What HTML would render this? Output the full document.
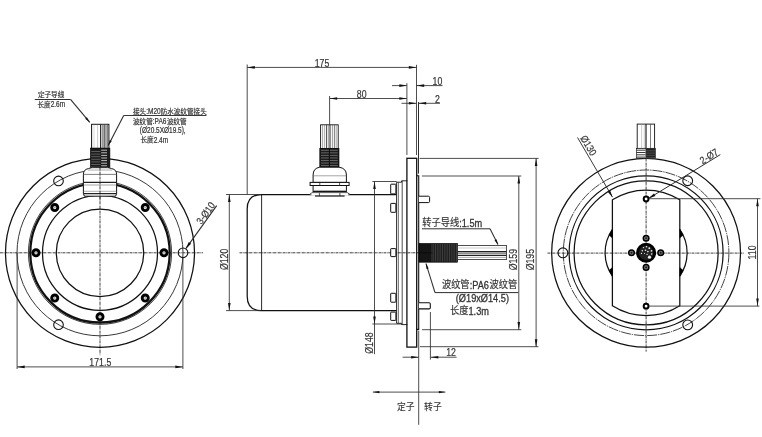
<!DOCTYPE html>
<html><head><meta charset="utf-8"><title>Drawing</title>
<style>html,body{margin:0;padding:0;background:#fff;}body{width:762px;height:437px;overflow:hidden;font-family:"Liberation Sans",sans-serif;}svg{display:block;will-change:transform;opacity:0.999}</style>
</head><body>
<svg width="762" height="437" viewBox="0 0 762 437" font-family="Liberation Sans, sans-serif">
<rect width="762" height="437" fill="#fff"/>
<line x1="0.00" y1="252.80" x2="203.00" y2="252.80" stroke="#1c1c1c" stroke-width="0.85" stroke-dasharray="2.9 0.6 0.7 0.6"/>
<line x1="100.00" y1="158.00" x2="100.00" y2="355.20" stroke="#1c1c1c" stroke-width="0.85" stroke-dasharray="2.9 0.6 0.7 0.6"/>
<circle cx="100.00" cy="252.80" r="94.50" stroke="#111" stroke-width="1.25" fill="none" />
<circle cx="100.00" cy="252.80" r="83.00" stroke="#2e2e2e" stroke-width="0.95" fill="none" />
<circle cx="100.00" cy="252.80" r="69.70" stroke="#111" stroke-width="2.3" fill="none" />
<circle cx="100.00" cy="252.80" r="71.60" stroke="#111" stroke-width="0.8" fill="none" />
<circle cx="100.00" cy="252.80" r="57.50" stroke="#111" stroke-width="1.25" fill="none" />
<circle cx="100.00" cy="252.80" r="43.70" stroke="#111" stroke-width="1.25" fill="none" />
<circle cx="164.00" cy="252.80" r="3.05" stroke="#000" stroke-width="2.9" fill="#fff" />
<circle cx="164.00" cy="252.80" r="0.70" stroke="#777" stroke-width="0.4" fill="#bbb" />
<circle cx="145.25" cy="207.55" r="3.05" stroke="#000" stroke-width="2.9" fill="#fff" />
<circle cx="145.25" cy="207.55" r="0.70" stroke="#777" stroke-width="0.4" fill="#bbb" />
<circle cx="54.75" cy="207.55" r="3.05" stroke="#000" stroke-width="2.9" fill="#fff" />
<circle cx="54.75" cy="207.55" r="0.70" stroke="#777" stroke-width="0.4" fill="#bbb" />
<circle cx="36.00" cy="252.80" r="3.05" stroke="#000" stroke-width="2.9" fill="#fff" />
<circle cx="36.00" cy="252.80" r="0.70" stroke="#777" stroke-width="0.4" fill="#bbb" />
<circle cx="54.75" cy="298.05" r="3.05" stroke="#000" stroke-width="2.9" fill="#fff" />
<circle cx="54.75" cy="298.05" r="0.70" stroke="#777" stroke-width="0.4" fill="#bbb" />
<circle cx="100.00" cy="316.80" r="3.05" stroke="#000" stroke-width="2.9" fill="#fff" />
<circle cx="100.00" cy="316.80" r="0.70" stroke="#777" stroke-width="0.4" fill="#bbb" />
<circle cx="145.25" cy="298.05" r="3.05" stroke="#000" stroke-width="2.9" fill="#fff" />
<circle cx="145.25" cy="298.05" r="0.70" stroke="#777" stroke-width="0.4" fill="#bbb" />
<circle cx="183.00" cy="252.80" r="4.80" stroke="#111" stroke-width="1.1" fill="none" />
<circle cx="58.50" cy="180.92" r="4.80" stroke="#111" stroke-width="1.1" fill="none" />
<circle cx="58.50" cy="324.68" r="4.80" stroke="#111" stroke-width="1.1" fill="none" />
<g>
<rect x="91.60" y="124.30" width="17.30" height="24.10" stroke="#111" stroke-width="1.0" fill="#fff" />
<rect x="101.6" y="124.9" width="6.4" height="23.3" fill="#d4d4d4"/>
<line x1="94.00" y1="124.60" x2="94.00" y2="148.40" stroke="#bbb" stroke-width="0.5" />
<line x1="97.60" y1="124.60" x2="97.60" y2="148.40" stroke="#999" stroke-width="0.5" />
<line x1="100.60" y1="124.60" x2="100.60" y2="148.40" stroke="#222" stroke-width="1.1" />
<line x1="102.40" y1="124.60" x2="102.40" y2="148.40" stroke="#666" stroke-width="0.6" />
<line x1="104.20" y1="124.60" x2="104.20" y2="148.40" stroke="#333" stroke-width="0.9" />
<line x1="105.80" y1="124.60" x2="105.80" y2="148.40" stroke="#666" stroke-width="0.6" />
<line x1="107.30" y1="124.60" x2="107.30" y2="148.40" stroke="#444" stroke-width="0.7" />
<rect x="90.40" y="148.10" width="19.50" height="19.20" stroke="#000" stroke-width="0.6" fill="#1c1c1c" />
<line x1="101.20" y1="150.20" x2="107.00" y2="150.20" stroke="#cfcfcf" stroke-width="0.9" />
<line x1="91.20" y1="151.50" x2="100.40" y2="151.50" stroke="#777" stroke-width="0.7" />
<line x1="101.20" y1="152.80" x2="107.00" y2="152.80" stroke="#cfcfcf" stroke-width="0.9" />
<line x1="91.20" y1="154.10" x2="100.40" y2="154.10" stroke="#777" stroke-width="0.7" />
<line x1="101.20" y1="155.40" x2="107.00" y2="155.40" stroke="#cfcfcf" stroke-width="0.9" />
<line x1="91.20" y1="156.70" x2="100.40" y2="156.70" stroke="#777" stroke-width="0.7" />
<line x1="101.20" y1="158.00" x2="107.00" y2="158.00" stroke="#cfcfcf" stroke-width="0.9" />
<line x1="91.20" y1="159.30" x2="100.40" y2="159.30" stroke="#777" stroke-width="0.7" />
<line x1="101.20" y1="160.60" x2="107.00" y2="160.60" stroke="#cfcfcf" stroke-width="0.9" />
<line x1="91.20" y1="161.90" x2="100.40" y2="161.90" stroke="#777" stroke-width="0.7" />
<line x1="101.20" y1="163.20" x2="107.00" y2="163.20" stroke="#cfcfcf" stroke-width="0.9" />
<line x1="91.20" y1="164.50" x2="100.40" y2="164.50" stroke="#777" stroke-width="0.7" />
<line x1="101.20" y1="165.80" x2="107.00" y2="165.80" stroke="#cfcfcf" stroke-width="0.9" />
<line x1="91.20" y1="167.10" x2="100.40" y2="167.10" stroke="#777" stroke-width="0.7" />
<path d="M92.6,167.3 L107.4,167.3 L111.6,168.6 Q116.6,169.6 116.6,174.2 L116.6,193.6 L115.6,196.2 L84.4,196.2 L83.4,193.6 L83.4,174.2 Q83.4,169.6 88.4,168.6 Z" stroke="#111" stroke-width="1.0" fill="#fff" />
<line x1="88.00" y1="169.00" x2="112.00" y2="169.00" stroke="#777" stroke-width="0.5" />
<line x1="88.00" y1="170.40" x2="112.00" y2="170.40" stroke="#999" stroke-width="0.5" />
<line x1="83.40" y1="174.40" x2="116.60" y2="174.40" stroke="#444" stroke-width="0.7" />
<line x1="83.40" y1="182.40" x2="116.60" y2="182.40" stroke="#222" stroke-width="1.3" />
<line x1="83.40" y1="185.00" x2="116.60" y2="185.00" stroke="#666" stroke-width="0.6" />
<line x1="83.40" y1="191.30" x2="116.60" y2="191.30" stroke="#777" stroke-width="0.6" />
<line x1="83.40" y1="193.60" x2="116.60" y2="193.60" stroke="#222" stroke-width="1.3" />
<line x1="100.00" y1="167.00" x2="100.00" y2="200.00" stroke="#1c1c1c" stroke-width="0.85" stroke-dasharray="2.9 0.6 0.7 0.6"/>
</g>
<text transform="translate(37.90,96.70) scale(0.9167,1)" font-size="7.2" font-family="'Liberation Sans','Noto Sans CJK SC',sans-serif" fill="#333" stroke="#333" stroke-width="0.2">定子导线</text>
<text transform="translate(37.50,106.50) scale(0.9167,1)" font-size="7.2" font-family="'Liberation Sans','Noto Sans CJK SC',sans-serif" fill="#333" stroke="#333" stroke-width="0.2">长度</text>
<text transform="translate(50.70,107.00) scale(0.7750,1)" font-size="8.4" fill="#333" stroke="#333" stroke-width="0.22">2.6m</text>
<line x1="34.80" y1="99.40" x2="70.50" y2="99.40" stroke="#2e2e2e" stroke-width="1.05" />
<line x1="70.50" y1="99.40" x2="89.80" y2="122.40" stroke="#2e2e2e" stroke-width="1.1" />
<polygon points="89.90,122.60 85.20,118.71 86.89,117.29" fill="#111"/>
<text transform="translate(133.00,113.90) scale(0.9167,1)" font-size="7.2" font-family="'Liberation Sans','Noto Sans CJK SC',sans-serif" fill="#333" stroke="#333" stroke-width="0.2">接头</text>
<text transform="translate(146.20,114.40) scale(0.7750,1)" font-size="8.4" fill="#333" stroke="#333" stroke-width="0.22">:M20</text>
<text transform="translate(160.67,113.90) scale(0.9167,1)" font-size="7.2" font-family="'Liberation Sans','Noto Sans CJK SC',sans-serif" fill="#333" stroke="#333" stroke-width="0.2">防水波纹管接头</text>
<line x1="123.70" y1="115.50" x2="206.40" y2="115.50" stroke="#2e2e2e" stroke-width="0.95" />
<line x1="123.70" y1="115.50" x2="108.20" y2="145.40" stroke="#2e2e2e" stroke-width="1.1" />
<polygon points="108.00,145.80 109.78,139.96 111.73,140.97" fill="#111"/>
<text transform="translate(133.00,123.70) scale(0.9167,1)" font-size="7.2" font-family="'Liberation Sans','Noto Sans CJK SC',sans-serif" fill="#333" stroke="#333" stroke-width="0.2">波纹管</text>
<text transform="translate(152.80,124.20) scale(0.7750,1)" font-size="8.4" fill="#333" stroke="#333" stroke-width="0.22">:PA6</text>
<text transform="translate(166.91,123.70) scale(0.9167,1)" font-size="7.2" font-family="'Liberation Sans','Noto Sans CJK SC',sans-serif" fill="#333" stroke="#333" stroke-width="0.2">波纹管</text>
<text transform="translate(139.80,132.80) scale(0.7750,1)" font-size="8.4" fill="#333" stroke="#333" stroke-width="0.22">(&#216;20.5X&#216;19.5),</text>
<text transform="translate(140.50,142.00) scale(0.9167,1)" font-size="7.2" font-family="'Liberation Sans','Noto Sans CJK SC',sans-serif" fill="#333" stroke="#333" stroke-width="0.2">长度</text>
<text transform="translate(153.70,142.50) scale(0.7750,1)" font-size="8.4" fill="#333" stroke="#333" stroke-width="0.22">2.4m</text>
<line x1="17.10" y1="252.80" x2="17.10" y2="369.00" stroke="#2e2e2e" stroke-width="0.85" />
<line x1="182.90" y1="257.50" x2="182.90" y2="369.00" stroke="#2e2e2e" stroke-width="0.85" />
<line x1="17.10" y1="366.90" x2="182.90" y2="366.90" stroke="#2e2e2e" stroke-width="0.85" />
<polygon points="17.10,366.90 24.70,365.60 24.70,368.20" fill="#111"/>
<polygon points="182.90,366.90 175.30,368.20 175.30,365.60" fill="#111"/>
<text transform="translate(100.30,366.00) rotate(0) scale(0.86,1)" font-size="10.2" text-anchor="middle" fill="#333" stroke="#333" stroke-width="0.18">171.5</text>
<line x1="186.00" y1="248.40" x2="216.70" y2="205.60" stroke="#2e2e2e" stroke-width="1.1" />
<polygon points="185.60,249.00 188.79,242.06 191.15,243.75" fill="#111"/>
<text transform="translate(201.5,225.0) rotate(-54.4) scale(0.86,1)" font-size="10.2" fill="#333" stroke="#333" stroke-width="0.18">3-&#216;10</text>
<line x1="239.50" y1="252.80" x2="432.00" y2="252.80" stroke="#1c1c1c" stroke-width="0.85" stroke-dasharray="2.9 0.6 0.7 0.6"/>
<path d="M396.6,194.5 L261.6,194.5 Q247.2,194.5 247.2,208.9 L247.2,296.2 Q247.2,310.6 261.6,310.6 L396.6,310.6" stroke="#111" stroke-width="1.25" fill="none" />
<line x1="261.60" y1="194.50" x2="261.60" y2="310.60" stroke="#111" stroke-width="0.9" />
<rect x="390.7" y="184.2" width="5.2" height="9.70" rx="0.5" fill="#fff" stroke="#111" stroke-width="1"/>
<rect x="390.7" y="203.4" width="5.2" height="8.90" rx="0.5" fill="#fff" stroke="#111" stroke-width="1"/>
<rect x="390.7" y="248.6" width="5.2" height="8.00" rx="0.5" fill="#fff" stroke="#111" stroke-width="1"/>
<rect x="390.7" y="293.3" width="5.2" height="8.90" rx="0.5" fill="#fff" stroke="#111" stroke-width="1"/>
<rect x="390.7" y="312.1" width="5.2" height="8.30" rx="0.5" fill="#fff" stroke="#111" stroke-width="1"/>
<path d="M396.6,182.2 L401.6,182.2 L401.6,180.8 L407.3,180.8 M396.6,323.3 L401.6,323.3 L401.6,324.6 L407.3,324.6" stroke="#111" stroke-width="0.9" fill="none" />
<line x1="396.60" y1="182.20" x2="396.60" y2="323.30" stroke="#111" stroke-width="0.9" />
<line x1="398.40" y1="182.20" x2="398.40" y2="323.30" stroke="#333" stroke-width="0.7" />
<line x1="402.20" y1="180.80" x2="402.20" y2="324.60" stroke="#222" stroke-width="0.8" />
<rect x="406.90" y="158.30" width="9.80" height="188.80" stroke="#111" stroke-width="1.3" fill="none" />
<path d="M416.7,175.7 L418.7,175.7 L418.7,329.4 L416.7,329.4" stroke="#111" stroke-width="1.1" fill="none" />
<path d="M418.9,196.2 L428.4,196.2 Q429.6,196.2 429.6,197.4 L429.6,201.4 Q429.6,202.6 428.4,202.6 L418.9,202.6" stroke="#111" stroke-width="1.0" fill="#fff" />
<path d="M418.9,302.7 L429.1,302.7 Q430.3,302.7 430.3,303.9 L430.3,307.7 Q430.3,308.9 429.1,308.9 L418.9,308.9" stroke="#111" stroke-width="1.1" fill="#fff" />
<rect x="419.00" y="243.40" width="38.60" height="18.80" stroke="#000" stroke-width="0.6" fill="#151515" />
<line x1="432.00" y1="244.00" x2="432.00" y2="261.60" stroke="#5a5a5a" stroke-width="0.6" />
<line x1="433.75" y1="244.00" x2="433.75" y2="261.60" stroke="#5a5a5a" stroke-width="0.6" />
<line x1="435.50" y1="244.00" x2="435.50" y2="261.60" stroke="#5a5a5a" stroke-width="0.6" />
<line x1="437.25" y1="244.00" x2="437.25" y2="261.60" stroke="#5a5a5a" stroke-width="0.6" />
<line x1="439.00" y1="244.00" x2="439.00" y2="261.60" stroke="#5a5a5a" stroke-width="0.6" />
<line x1="440.75" y1="244.00" x2="440.75" y2="261.60" stroke="#5a5a5a" stroke-width="0.6" />
<line x1="442.50" y1="244.00" x2="442.50" y2="261.60" stroke="#5a5a5a" stroke-width="0.6" />
<line x1="444.25" y1="244.00" x2="444.25" y2="261.60" stroke="#5a5a5a" stroke-width="0.6" />
<line x1="446.00" y1="244.00" x2="446.00" y2="261.60" stroke="#5a5a5a" stroke-width="0.6" />
<line x1="447.75" y1="244.00" x2="447.75" y2="261.60" stroke="#5a5a5a" stroke-width="0.6" />
<line x1="449.50" y1="244.00" x2="449.50" y2="261.60" stroke="#5a5a5a" stroke-width="0.6" />
<line x1="451.25" y1="244.00" x2="451.25" y2="261.60" stroke="#5a5a5a" stroke-width="0.6" />
<line x1="453.00" y1="244.00" x2="453.00" y2="261.60" stroke="#5a5a5a" stroke-width="0.6" />
<line x1="454.75" y1="244.00" x2="454.75" y2="261.60" stroke="#5a5a5a" stroke-width="0.6" />
<line x1="456.50" y1="244.00" x2="456.50" y2="261.60" stroke="#5a5a5a" stroke-width="0.6" />
<line x1="419.00" y1="252.80" x2="432.40" y2="252.80" stroke="#000" stroke-width="0.6" />
<rect x="457.60" y="245.40" width="48.90" height="14.20" stroke="#222" stroke-width="0.8" fill="#fff" />
<line x1="457.60" y1="248.00" x2="506.50" y2="248.00" stroke="#aaa" stroke-width="0.6" />
<line x1="457.60" y1="251.70" x2="506.50" y2="251.70" stroke="#222" stroke-width="1.2" />
<line x1="457.60" y1="253.20" x2="506.50" y2="253.20" stroke="#333" stroke-width="0.8" />
<line x1="457.60" y1="255.30" x2="506.50" y2="255.30" stroke="#222" stroke-width="1.2" />
<line x1="457.60" y1="257.40" x2="506.50" y2="257.40" stroke="#888" stroke-width="0.7" />
<rect x="320.60" y="124.80" width="17.60" height="23.90" stroke="#111" stroke-width="0.9" fill="#fff" />
<line x1="322.60" y1="124.80" x2="322.60" y2="148.70" stroke="#666" stroke-width="0.6" />
<line x1="324.60" y1="124.80" x2="324.60" y2="148.70" stroke="#777" stroke-width="0.6" />
<line x1="326.60" y1="124.80" x2="326.60" y2="148.70" stroke="#333" stroke-width="0.9" />
<line x1="328.40" y1="124.80" x2="328.40" y2="148.70" stroke="#666" stroke-width="0.6" />
<line x1="330.00" y1="124.80" x2="330.00" y2="148.70" stroke="#222" stroke-width="1.0" />
<line x1="332.40" y1="124.80" x2="332.40" y2="148.70" stroke="#555" stroke-width="0.6" />
<line x1="334.40" y1="124.80" x2="334.40" y2="148.70" stroke="#444" stroke-width="0.7" />
<line x1="336.20" y1="124.80" x2="336.20" y2="148.70" stroke="#666" stroke-width="0.6" />
<rect x="319.80" y="148.30" width="19.20" height="18.90" stroke="#000" stroke-width="0.6" fill="#1c1c1c" />
<line x1="321.00" y1="150.30" x2="337.80" y2="150.30" stroke="#777" stroke-width="0.8" />
<line x1="321.00" y1="152.85" x2="337.80" y2="152.85" stroke="#777" stroke-width="0.8" />
<line x1="321.00" y1="155.40" x2="337.80" y2="155.40" stroke="#777" stroke-width="0.8" />
<line x1="321.00" y1="157.95" x2="337.80" y2="157.95" stroke="#777" stroke-width="0.8" />
<line x1="321.00" y1="160.50" x2="337.80" y2="160.50" stroke="#777" stroke-width="0.8" />
<line x1="321.00" y1="163.05" x2="337.80" y2="163.05" stroke="#777" stroke-width="0.8" />
<line x1="321.00" y1="165.60" x2="337.80" y2="165.60" stroke="#777" stroke-width="0.8" />
<line x1="329.40" y1="148.30" x2="329.40" y2="167.20" stroke="#000" stroke-width="0.8" />
<path d="M319.8,167.2 L339.0,167.2 Q346.4,168.2 346.4,175.0 L346.4,182.4 L313.1,182.4 L313.1,175.0 Q313.1,168.2 319.8,167.2 Z" stroke="#111" stroke-width="1.0" fill="#fff" />
<line x1="313.10" y1="175.80" x2="346.40" y2="175.80" stroke="#666" stroke-width="0.6" />
<rect x="310.10" y="182.40" width="39.00" height="3.10" stroke="#111" stroke-width="1.0" fill="#fff" />
<line x1="319.80" y1="182.40" x2="319.80" y2="185.50" stroke="#111" stroke-width="0.7" />
<line x1="339.60" y1="182.40" x2="339.60" y2="185.50" stroke="#111" stroke-width="0.7" />
<rect x="313.10" y="185.50" width="33.30" height="6.00" stroke="#111" stroke-width="1.0" fill="#fff" />
<line x1="313.10" y1="190.60" x2="346.40" y2="190.60" stroke="#666" stroke-width="0.6" />
<path d="M309.6,194.5 L312.0,192.8 L347.6,192.8 L350.0,194.5" stroke="#111" stroke-width="0.9" fill="#fff" />
<rect x="311.5" y="193.3" width="36.6" height="2.2" fill="#fff"/>
<line x1="315.00" y1="196.00" x2="344.60" y2="196.00" stroke="#222" stroke-width="1.3" />
<line x1="319.40" y1="193.00" x2="319.40" y2="196.00" stroke="#111" stroke-width="0.7" />
<line x1="339.90" y1="193.00" x2="339.90" y2="196.00" stroke="#111" stroke-width="0.7" />
<line x1="247.20" y1="64.50" x2="247.20" y2="194.50" stroke="#2e2e2e" stroke-width="0.85" />
<line x1="416.50" y1="64.80" x2="416.50" y2="155.00" stroke="#2e2e2e" stroke-width="0.85" />
<line x1="247.20" y1="67.40" x2="416.40" y2="67.40" stroke="#2e2e2e" stroke-width="0.85" />
<polygon points="247.20,67.40 254.80,66.10 254.80,68.70" fill="#111"/>
<polygon points="416.40,67.40 408.80,68.70 408.80,66.10" fill="#111"/>
<text transform="translate(322.00,66.60) rotate(0) scale(0.86,1)" font-size="10.2" text-anchor="middle" fill="#333" stroke="#333" stroke-width="0.18">175</text>
<line x1="329.60" y1="96.00" x2="329.60" y2="124.80" stroke="#2e2e2e" stroke-width="0.85" />
<line x1="406.90" y1="83.20" x2="406.90" y2="155.00" stroke="#2e2e2e" stroke-width="0.85" />
<line x1="329.60" y1="98.50" x2="406.90" y2="98.50" stroke="#2e2e2e" stroke-width="0.85" />
<polygon points="329.60,98.50 337.20,97.20 337.20,99.80" fill="#111"/>
<polygon points="406.90,98.50 399.30,99.80 399.30,97.20" fill="#111"/>
<text transform="translate(361.70,97.90) rotate(0) scale(0.86,1)" font-size="10.2" text-anchor="middle" fill="#333" stroke="#333" stroke-width="0.18">80</text>
<line x1="392.00" y1="85.60" x2="406.90" y2="85.60" stroke="#2e2e2e" stroke-width="0.85" />
<polygon points="406.90,85.60 399.30,86.90 399.30,84.30" fill="#111"/>
<line x1="416.40" y1="85.60" x2="442.50" y2="85.60" stroke="#2e2e2e" stroke-width="0.85" />
<polygon points="416.60,85.60 424.20,84.30 424.20,86.90" fill="#111"/>
<text transform="translate(437.40,84.90) rotate(0) scale(0.86,1)" font-size="10.2" text-anchor="middle" fill="#333" stroke="#333" stroke-width="0.18">10</text>
<line x1="418.50" y1="102.00" x2="418.50" y2="173.60" stroke="#2e2e2e" stroke-width="1.0" />
<line x1="401.50" y1="103.30" x2="416.40" y2="103.30" stroke="#2e2e2e" stroke-width="0.85" />
<polygon points="416.40,103.30 408.80,104.60 408.80,102.00" fill="#111"/>
<line x1="418.50" y1="103.30" x2="440.00" y2="103.30" stroke="#2e2e2e" stroke-width="0.85" />
<polygon points="418.60,103.30 426.20,102.00 426.20,104.60" fill="#111"/>
<text transform="translate(437.50,102.90) rotate(0) scale(0.86,1)" font-size="10.2" text-anchor="middle" fill="#333" stroke="#333" stroke-width="0.18">2</text>
<line x1="226.00" y1="194.50" x2="261.00" y2="194.50" stroke="#2e2e2e" stroke-width="0.85" />
<line x1="226.00" y1="310.60" x2="261.00" y2="310.60" stroke="#2e2e2e" stroke-width="0.85" />
<line x1="229.30" y1="194.50" x2="229.30" y2="310.60" stroke="#2e2e2e" stroke-width="0.85" />
<polygon points="229.30,194.50 230.60,202.10 228.00,202.10" fill="#111"/>
<polygon points="229.30,310.60 228.00,303.00 230.60,303.00" fill="#111"/>
<text transform="translate(227.60,259.40) rotate(-90) scale(0.86,1)" font-size="10.2" text-anchor="middle" fill="#333" stroke="#333" stroke-width="0.18">&#216;120</text>
<line x1="372.40" y1="181.50" x2="396.60" y2="181.50" stroke="#2e2e2e" stroke-width="0.85" />
<line x1="372.40" y1="324.00" x2="402.00" y2="324.00" stroke="#2e2e2e" stroke-width="0.85" />
<line x1="374.50" y1="181.50" x2="374.50" y2="354.20" stroke="#2e2e2e" stroke-width="0.85" />
<polygon points="374.50,181.50 375.80,189.10 373.20,189.10" fill="#111"/>
<polygon points="374.50,324.00 373.20,316.40 375.80,316.40" fill="#111"/>
<text transform="translate(373.20,343.00) rotate(-90) scale(0.86,1)" font-size="10.2" text-anchor="middle" fill="#333" stroke="#333" stroke-width="0.18">&#216;148</text>
<line x1="421.90" y1="176.00" x2="521.30" y2="176.00" stroke="#2e2e2e" stroke-width="0.85" />
<line x1="422.00" y1="329.70" x2="521.30" y2="329.70" stroke="#2e2e2e" stroke-width="0.85" />
<line x1="518.80" y1="176.00" x2="518.80" y2="329.70" stroke="#2e2e2e" stroke-width="0.85" />
<polygon points="518.80,176.00 520.10,183.60 517.50,183.60" fill="#111"/>
<polygon points="518.80,329.70 517.50,322.10 520.10,322.10" fill="#111"/>
<text transform="translate(517.40,259.60) rotate(-90) scale(0.86,1)" font-size="10.2" text-anchor="middle" fill="#333" stroke="#333" stroke-width="0.18">&#216;159</text>
<line x1="419.60" y1="158.40" x2="538.60" y2="158.40" stroke="#2e2e2e" stroke-width="0.85" />
<line x1="419.90" y1="346.70" x2="538.40" y2="346.70" stroke="#2e2e2e" stroke-width="0.85" />
<line x1="536.10" y1="158.40" x2="536.10" y2="346.90" stroke="#2e2e2e" stroke-width="0.85" />
<polygon points="536.10,158.40 537.40,166.00 534.80,166.00" fill="#111"/>
<polygon points="536.10,346.90 534.80,339.30 537.40,339.30" fill="#111"/>
<text transform="translate(534.20,259.60) rotate(-90) scale(0.86,1)" font-size="10.2" text-anchor="middle" fill="#333" stroke="#333" stroke-width="0.18">&#216;195</text>
<line x1="430.40" y1="312.00" x2="430.40" y2="359.60" stroke="#2e2e2e" stroke-width="0.85" />
<line x1="418.70" y1="330.60" x2="418.70" y2="424.80" stroke="#2e2e2e" stroke-width="0.85" />
<line x1="402.60" y1="357.20" x2="418.70" y2="357.20" stroke="#2e2e2e" stroke-width="0.85" />
<polygon points="418.70,357.20 411.10,358.50 411.10,355.90" fill="#111"/>
<line x1="430.60" y1="357.20" x2="456.60" y2="357.20" stroke="#2e2e2e" stroke-width="0.85" />
<polygon points="430.70,357.20 438.30,355.90 438.30,358.50" fill="#111"/>
<text transform="translate(451.00,356.40) rotate(0) scale(0.86,1)" font-size="10.2" text-anchor="middle" fill="#333" stroke="#333" stroke-width="0.18">12</text>
<line x1="372.80" y1="392.10" x2="445.40" y2="392.10" stroke="#2e2e2e" stroke-width="0.85" />
<polygon points="372.80,392.10 379.40,391.00 379.40,393.20" fill="#111"/>
<polygon points="445.40,392.10 438.80,393.20 438.80,391.00" fill="#111"/>
<text transform="translate(397.00,410.23) scale(0.9167,1)" font-size="9.6" font-family="'Liberation Sans','Noto Sans CJK SC',sans-serif" fill="#333" stroke="#333" stroke-width="0.11">定子</text>
<text transform="translate(424.10,410.23) scale(0.9167,1)" font-size="9.6" font-family="'Liberation Sans','Noto Sans CJK SC',sans-serif" fill="#333" stroke="#333" stroke-width="0.11">转子</text>
<text transform="translate(422.20,225.97) scale(0.8894,1)" font-size="10.4" font-family="'Liberation Sans','Noto Sans CJK SC',sans-serif" fill="#333" stroke="#333" stroke-width="0.17">转子导线</text>
<text transform="translate(459.20,226.70) scale(0.8850,1)" font-size="10.4" fill="#333" stroke="#333" stroke-width="0.3">:1.5m</text>
<line x1="422.00" y1="228.80" x2="490.00" y2="228.80" stroke="#2e2e2e" stroke-width="1.0" />
<line x1="490.00" y1="228.80" x2="498.00" y2="244.60" stroke="#2e2e2e" stroke-width="1.05" />
<polygon points="498.20,245.00 494.51,240.14 496.47,239.15" fill="#111"/>
<text transform="translate(441.90,288.49) scale(0.9069,1)" font-size="10.2" font-family="'Liberation Sans','Noto Sans CJK SC',sans-serif" fill="#333" stroke="#333" stroke-width="0.17">波纹管</text>
<text transform="translate(469.65,289.20) scale(0.8850,1)" font-size="10.4" fill="#333" stroke="#333" stroke-width="0.3">:PA6</text>
<text transform="translate(489.60,288.49) scale(0.9069,1)" font-size="10.2" font-family="'Liberation Sans','Noto Sans CJK SC',sans-serif" fill="#333" stroke="#333" stroke-width="0.17">波纹管</text>
<line x1="435.00" y1="292.60" x2="518.30" y2="292.60" stroke="#2e2e2e" stroke-width="1.0" />
<line x1="435.00" y1="292.60" x2="426.00" y2="263.60" stroke="#2e2e2e" stroke-width="1.05" />
<polygon points="425.80,263.00 428.66,268.39 426.57,269.05" fill="#111"/>
<text transform="translate(455.80,302.00) scale(0.8850,1)" font-size="10.4" fill="#333" stroke="#333" stroke-width="0.3">(&#216;19x&#216;14.5)</text>
<text transform="translate(450.00,314.29) scale(0.9069,1)" font-size="10.2" font-family="'Liberation Sans','Noto Sans CJK SC',sans-serif" fill="#333" stroke="#333" stroke-width="0.17">长度</text>
<text transform="translate(468.50,315.00) scale(0.8850,1)" font-size="10.4" fill="#333" stroke="#333" stroke-width="0.3">1.3m</text>
<line x1="547.50" y1="253.10" x2="744.20" y2="253.10" stroke="#1c1c1c" stroke-width="0.85" stroke-dasharray="2.9 0.6 0.7 0.6"/>
<line x1="646.10" y1="158.00" x2="646.10" y2="351.60" stroke="#1c1c1c" stroke-width="0.85" stroke-dasharray="2.9 0.6 0.7 0.6"/>
<circle cx="646.10" cy="252.80" r="94.40" stroke="#111" stroke-width="1.25" fill="none" />
<circle cx="646.10" cy="252.80" r="82.80" stroke="#2e2e2e" stroke-width="0.9" fill="none" stroke-dasharray="10 0.9 1.4 0.9"/>
<circle cx="646.10" cy="252.80" r="77.00" stroke="#111" stroke-width="1.25" fill="none" />
<circle cx="646.10" cy="252.80" r="72.00" stroke="#111" stroke-width="1.25" fill="none" />
<path d="M612.40,199.81 A62.8,62.8 0 0 1 679.80,199.81 L679.80,305.79 A62.8,62.8 0 0 1 612.40,305.79 Z" stroke="#111" stroke-width="1.25" fill="none" />
<path d="M612.40,229.45 A41.0,41.0 0 0 0 612.40,276.15" stroke="#111" stroke-width="1.25" fill="none" />
<path d="M679.80,229.45 A41.0,41.0 0 0 1 679.80,276.15" stroke="#111" stroke-width="1.25" fill="none" />
<polygon points="612.40,229.45 611.41,230.95 610.51,232.45 609.69,233.95 609.05,235.25 612.40,238.05" fill="#000" stroke="#000" stroke-width="0.4"/>
<polygon points="612.40,276.15 611.41,274.65 610.51,273.15 609.69,271.65 609.05,270.35 612.40,267.55" fill="#000" stroke="#000" stroke-width="0.4"/>
<polygon points="679.80,229.45 680.79,230.95 681.69,232.45 682.51,233.95 683.15,235.25 679.80,238.05" fill="#000" stroke="#000" stroke-width="0.4"/>
<polygon points="679.80,276.15 680.79,274.65 681.69,273.15 682.51,271.65 683.15,270.35 679.80,267.55" fill="#000" stroke="#000" stroke-width="0.4"/>
<circle cx="687.70" cy="180.75" r="4.90" stroke="#111" stroke-width="1.1" fill="none" />
<circle cx="562.90" cy="252.80" r="4.90" stroke="#111" stroke-width="1.1" fill="none" />
<circle cx="687.70" cy="324.85" r="4.90" stroke="#111" stroke-width="1.1" fill="none" />
<circle cx="646.10" cy="199.00" r="2.40" stroke="#000" stroke-width="2.0" fill="#fff" />
<circle cx="646.10" cy="306.20" r="2.40" stroke="#000" stroke-width="2.0" fill="#fff" />
<circle cx="646.10" cy="252.80" r="8.60" stroke="#000" stroke-width="2.8" fill="#222" />
<circle cx="646.50" cy="246.80" r="0.8" fill="#eee"/>
<circle cx="649.30" cy="248.20" r="0.9" fill="#eee"/>
<circle cx="651.50" cy="250.80" r="0.9" fill="#eee"/>
<circle cx="651.70" cy="254.00" r="0.8" fill="#eee"/>
<circle cx="649.50" cy="257.20" r="1.6" fill="#eee"/>
<circle cx="643.50" cy="247.60" r="0.7" fill="#eee"/>
<circle cx="645.50" cy="250.20" r="0.8" fill="#eee"/>
<circle cx="642.30" cy="250.80" r="0.7" fill="#eee"/>
<circle cx="647.90" cy="251.60" r="0.8" fill="#eee"/>
<circle cx="641.50" cy="253.40" r="0.6" fill="#eee"/>
<circle cx="647.10" cy="254.40" r="0.6" fill="#eee"/>
<circle cx="644.50" cy="253.60" r="0.5" fill="#eee"/>
<circle cx="631.50" cy="252.80" r="2.80" stroke="#000" stroke-width="1.5" fill="#777" />
<circle cx="631.50" cy="252.80" r="0.80" stroke="#111" stroke-width="0.3" fill="#111" />
<circle cx="660.70" cy="252.80" r="2.80" stroke="#000" stroke-width="1.5" fill="#777" />
<circle cx="660.70" cy="252.80" r="0.80" stroke="#111" stroke-width="0.3" fill="#111" />
<circle cx="646.10" cy="238.20" r="2.80" stroke="#000" stroke-width="1.5" fill="#777" />
<circle cx="646.10" cy="238.20" r="0.80" stroke="#111" stroke-width="0.3" fill="#111" />
<circle cx="646.10" cy="267.40" r="2.80" stroke="#000" stroke-width="1.5" fill="#777" />
<circle cx="646.10" cy="267.40" r="0.80" stroke="#111" stroke-width="0.3" fill="#111" />
<rect x="637.20" y="124.10" width="17.40" height="24.30" stroke="#111" stroke-width="0.9" fill="#fff" />
<line x1="641.60" y1="124.10" x2="641.60" y2="148.40" stroke="#999" stroke-width="0.5" />
<line x1="644.30" y1="124.10" x2="644.30" y2="148.40" stroke="#999" stroke-width="0.5" />
<line x1="646.00" y1="124.10" x2="646.00" y2="148.40" stroke="#222" stroke-width="1.2" />
<line x1="650.50" y1="124.10" x2="650.50" y2="148.40" stroke="#444" stroke-width="0.7" />
<rect x="636.40" y="148.40" width="18.90" height="9.80" stroke="#000" stroke-width="0.6" fill="#fff" />
<rect x="645.6" y="148.4" width="9.7" height="9.8" fill="#222"/>
<line x1="636.40" y1="150.20" x2="645.60" y2="150.20" stroke="#222" stroke-width="0.9" />
<line x1="646.00" y1="150.80" x2="655.00" y2="150.80" stroke="#777" stroke-width="0.5" />
<line x1="636.40" y1="152.50" x2="645.60" y2="152.50" stroke="#222" stroke-width="0.9" />
<line x1="646.00" y1="153.10" x2="655.00" y2="153.10" stroke="#777" stroke-width="0.5" />
<line x1="636.40" y1="154.80" x2="645.60" y2="154.80" stroke="#222" stroke-width="0.9" />
<line x1="646.00" y1="155.40" x2="655.00" y2="155.40" stroke="#777" stroke-width="0.5" />
<line x1="636.40" y1="157.10" x2="645.60" y2="157.10" stroke="#222" stroke-width="0.9" />
<line x1="646.00" y1="157.70" x2="655.00" y2="157.70" stroke="#777" stroke-width="0.5" />
<line x1="649.10" y1="198.70" x2="760.40" y2="198.70" stroke="#2e2e2e" stroke-width="0.85" />
<line x1="649.10" y1="306.10" x2="759.40" y2="306.10" stroke="#2e2e2e" stroke-width="0.85" />
<line x1="757.50" y1="198.70" x2="757.50" y2="306.10" stroke="#2e2e2e" stroke-width="0.85" />
<polygon points="757.50,198.70 758.80,206.30 756.20,206.30" fill="#111"/>
<polygon points="757.50,306.10 756.20,298.50 758.80,298.50" fill="#111"/>
<text transform="translate(755.80,252.40) rotate(-90) scale(0.86,1)" font-size="10.2" text-anchor="middle" fill="#333" stroke="#333" stroke-width="0.18">110</text>
<line x1="649.00" y1="198.20" x2="720.30" y2="154.60" stroke="#2e2e2e" stroke-width="1.0" />
<polygon points="648.30,198.60 653.94,193.45 655.45,195.92" fill="#111"/>
<text transform="translate(702.6,164.4) rotate(-32.0) scale(0.86,1)" font-size="10.2" fill="#333" stroke="#333" stroke-width="0.18">2-&#216;7</text>
<line x1="577.50" y1="137.50" x2="612.40" y2="197.00" stroke="#2e2e2e" stroke-width="0.95" />
<polygon points="612.70,197.60 607.65,191.87 610.15,190.40" fill="#111"/>
<text transform="translate(580.1,137.9) rotate(59.6) scale(0.86,1)" font-size="10.2" fill="#333" stroke="#333" stroke-width="0.18">&#216;130</text>
</svg>
</body></html>
